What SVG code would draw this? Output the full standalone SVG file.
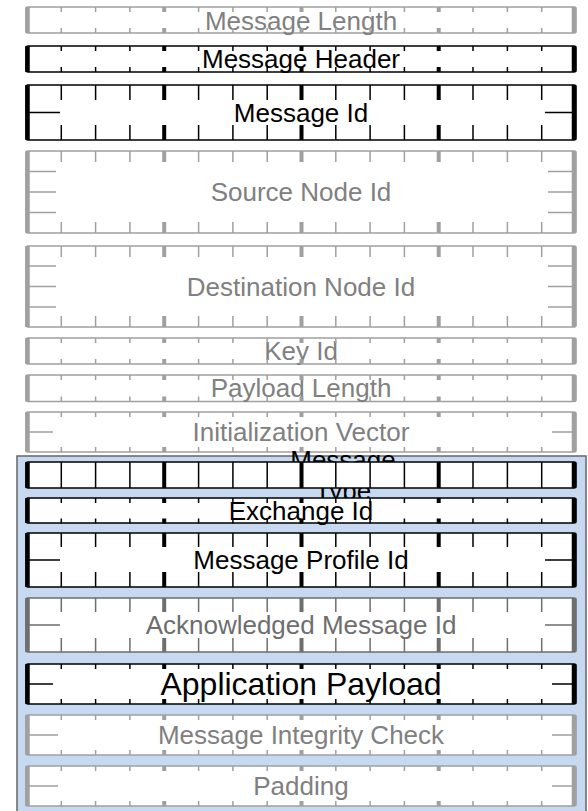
<svg xmlns="http://www.w3.org/2000/svg" xmlns:xlink="http://www.w3.org/1999/xlink" width="588" height="811" viewBox="0 0 588 811">
<style>
.bx{fill:#fff;stroke-width:1.5}
.k{stroke:#000}
.g{stroke:#a0a0a0}
.d{stroke:#6e6e6e}
.e{stroke-width:4.5;fill:none}
.tn{stroke-width:1.5;fill:none}
.tk{stroke-width:4;fill:none}
.mk{stroke-width:1.5;fill:none}
text{font-family:"Liberation Sans",Arial,sans-serif;font-size:26px;text-anchor:middle}
.kt{fill:#000}.gt{fill:#808080}.dt{fill:#6e6e6e}
</style>
<defs>
<path id="t5" d="M61.3 0v5M95.6 0v5M129.9 0v5M198.6 0v5M232.9 0v5M267.2 0v5M335.8 0v5M370.1 0v5M404.4 0v5M473 0v5M507.4 0v5M541.7 0v5"/>
<path id="T5" d="M164.2 0v5M301.5 0v5M438.7 0v5"/>
<path id="t11" d="M61.3 0v11M95.6 0v11M129.9 0v11M198.6 0v11M232.9 0v11M267.2 0v11M335.8 0v11M370.1 0v11M404.4 0v11M473 0v11M507.4 0v11M541.7 0v11"/>
<path id="T11" d="M164.2 0v11M301.5 0v11M438.7 0v11"/>
<path id="t14" d="M61.3 0v14M95.6 0v14M129.9 0v14M198.6 0v14M232.9 0v14M267.2 0v14M335.8 0v14M370.1 0v14M404.4 0v14M473 0v14M507.4 0v14M541.7 0v14"/>
<path id="T14" d="M164.2 0v14M301.5 0v14M438.7 0v14"/>
<path id="t15" d="M61.3 0v15M95.6 0v15M129.9 0v15M198.6 0v15M232.9 0v15M267.2 0v15M335.8 0v15M370.1 0v15M404.4 0v15M473 0v15M507.4 0v15M541.7 0v15"/>
<path id="T15" d="M164.2 0v15M301.5 0v15M438.7 0v15"/>
<path id="t26" d="M61.3 0v26M95.6 0v26M129.9 0v26M198.6 0v26M232.9 0v26M267.2 0v26M335.8 0v26M370.1 0v26M404.4 0v26M473 0v26M507.4 0v26M541.7 0v26"/>
<path id="T26" d="M164.2 0v26M301.5 0v26M438.7 0v26"/>
</defs>
<rect width="588" height="811" fill="#fff"/>

<g id="message-length">
<rect class="bx g" x="26" y="7" width="550" height="26" rx="2"/>
<text class="gt" x="301" y="29.5">Message Length</text>
<path class="e g" d="M27.5 7V33M574 7V33"/>
<use href="#t5" y="7" class="tn g"/><use href="#T5" y="7" class="tk g"/>
<use href="#t5" y="28" class="tn g"/><use href="#T5" y="28" class="tk g"/>
</g>

<g id="message-header">
<rect class="bx k" x="26" y="46" width="550" height="26" rx="2"/>
<text class="kt" x="301" y="68">Message Header</text>
<path class="e k" d="M27.5 46V72M574 46V72"/>
<use href="#t5" y="46" class="tn k"/><use href="#T5" y="46" class="tk k"/>
<use href="#t5" y="67" class="tn k"/><use href="#T5" y="67" class="tk k"/>
</g>

<g id="message-id">
<rect class="bx k" x="26" y="85" width="550" height="55" rx="2"/>
<text class="kt" x="301" y="122">Message Id</text>
<path class="e k" d="M27.5 85V140M574 85V140"/>
<use href="#t15" y="85" class="tn k"/><use href="#T15" y="85" class="tk k"/>
<use href="#t15" y="125" class="tn k"/><use href="#T15" y="125" class="tk k"/>
<path class="mk k" d="M26 112.5H60M545 112.5H576"/>
</g>

<g id="source-node-id">
<rect class="bx g" x="26" y="151" width="550" height="82" rx="2"/>
<text class="gt" x="301" y="201">Source Node Id</text>
<path class="e g" d="M27.5 151V233M574 151V233"/>
<use href="#t11" y="151" class="tn g"/><use href="#T11" y="151" class="tk g"/>
<use href="#t11" y="222" class="tn g"/><use href="#T11" y="222" class="tk g"/>
<path class="mk g" d="M26 171.5H56M26 192H56M26 212.5H56M548 171.5H576M548 192H576M548 212.5H576"/>
</g>

<g id="destination-node-id">
<rect class="bx g" x="26" y="246" width="550" height="81" rx="2"/>
<text class="gt" x="301" y="295.5">Destination Node Id</text>
<path class="e g" d="M27.5 246V327M574 246V327"/>
<use href="#t11" y="246" class="tn g"/><use href="#T11" y="246" class="tk g"/>
<use href="#t11" y="316" class="tn g"/><use href="#T11" y="316" class="tk g"/>
<path class="mk g" d="M26 266H56M26 286.5H56M26 307H56M548 266H576M548 286.5H576M548 307H576"/>
</g>

<g id="key-id">
<rect class="bx g" x="26" y="338" width="550" height="26" rx="2"/>
<text class="gt" x="301" y="360">Key Id</text>
<path class="e g" d="M27.5 338V364M574 338V364"/>
<use href="#t5" y="338" class="tn g"/><use href="#T5" y="338" class="tk g"/>
<use href="#t5" y="359" class="tn g"/><use href="#T5" y="359" class="tk g"/>
</g>

<g id="payload-length">
<rect class="bx g" x="26" y="375" width="550" height="26.5" rx="2"/>
<text class="gt" x="301" y="397">Payload Length</text>
<path class="e g" d="M27.5 375V401.5M574 375V401.5"/>
<use href="#t5" y="375" class="tn g"/><use href="#T5" y="375" class="tk g"/>
<use href="#t5" y="396.5" class="tn g"/><use href="#T5" y="396.5" class="tk g"/>
</g>

<g id="initialization-vector">
<rect class="bx g" x="26" y="412" width="550" height="40" rx="2"/>
<text class="gt" x="301" y="441">Initialization Vector</text>
<path class="e g" d="M27.5 412V452M574 412V452"/>
<use href="#t5" y="412" class="tn g"/><use href="#T5" y="412" class="tk g"/>
<use href="#t5" y="447" class="tn g"/><use href="#T5" y="447" class="tk g"/>
<path class="mk g" d="M26 432H53M552 432H576"/>
</g>

<g id="encrypted-container">
<rect x="17" y="456" width="569" height="360" fill="#c6d9f1" stroke="#666" stroke-width="1.5"/>
</g>

<g id="message-type">
<text class="kt" x="343" y="469">Message</text>
<text class="kt" x="343" y="500">Type</text>
<rect class="bx k" x="26" y="462" width="550" height="26" rx="2"/>
<path class="e k" d="M27.5 462V488M574 462V488"/>
<use href="#t26" y="462" class="tn k"/><use href="#T26" y="462" class="tk k"/>
</g>

<g id="exchange-id">
<rect class="bx k" x="26" y="498" width="550" height="25" rx="2"/>
<text class="kt" x="301" y="519.5">Exchange Id</text>
<path class="e k" d="M27.5 498V523M574 498V523"/>
<use href="#t5" y="498" class="tn k"/><use href="#T5" y="498" class="tk k"/>
<use href="#t5" y="518.5" class="tn k"/><use href="#T5" y="518.5" class="tk k"/>
</g>

<g id="message-profile-id">
<rect class="bx k" x="26" y="533" width="550" height="54" rx="2"/>
<text class="kt" x="301" y="569">Message Profile Id</text>
<path class="e k" d="M27.5 533V587M574 533V587"/>
<use href="#t14" y="533" class="tn k"/><use href="#T14" y="533" class="tk k"/>
<use href="#t15" y="572" class="tn k"/><use href="#T15" y="572" class="tk k"/>
<path class="mk k" d="M26 560H60M545 560H576"/>
</g>

<g id="acknowledged-message-id">
<rect class="bx d" x="26" y="598" width="550" height="54" rx="2"/>
<text class="dt" x="301" y="634">Acknowledged Message Id</text>
<path class="e d" d="M27.5 598V652M574 598V652"/>
<use href="#t14" y="598" class="tn d"/><use href="#T14" y="598" class="tk d"/>
<use href="#t14" y="638" class="tn d"/><use href="#T14" y="638" class="tk d"/>
<path class="mk d" d="M26 625H60M545 625H576"/>
</g>

<g id="application-payload">
<rect class="bx k" x="26" y="664" width="550" height="40" rx="2"/>
<text class="kt" x="301" y="695" style="font-size:32px">Application Payload</text>
<path class="e k" d="M27.5 664V704M574 664V704"/>
<use href="#t5" y="664" class="tn k"/><use href="#T5" y="664" class="tk k"/>
<use href="#t5" y="699" class="tn k"/><use href="#T5" y="699" class="tk k"/>
<path class="mk k" d="M26 684H53M552 684H576"/>
</g>

<g id="message-integrity-check">
<rect class="bx g" x="26" y="715" width="550" height="40" rx="2"/>
<text class="gt" x="301" y="744">Message Integrity Check</text>
<path class="e g" d="M27.5 715V755M574 715V755"/>
<use href="#t5" y="715" class="tn g"/><use href="#T5" y="715" class="tk g"/>
<use href="#t5" y="750" class="tn g"/><use href="#T5" y="750" class="tk g"/>
<path class="mk g" d="M26 735H58M552 735H576"/>
</g>

<g id="padding">
<rect class="bx g" x="26" y="766" width="550" height="40" rx="2"/>
<text class="gt" x="301" y="795">Padding</text>
<path class="e g" d="M27.5 766V806M574 766V806"/>
<use href="#t5" y="766" class="tn g"/><use href="#T5" y="766" class="tk g"/>
<use href="#t5" y="801" class="tn g"/><use href="#T5" y="801" class="tk g"/>
<path class="mk g" d="M26 786H58M552 786H576"/>
</g>

<g id="connectors"></g>
</svg>
